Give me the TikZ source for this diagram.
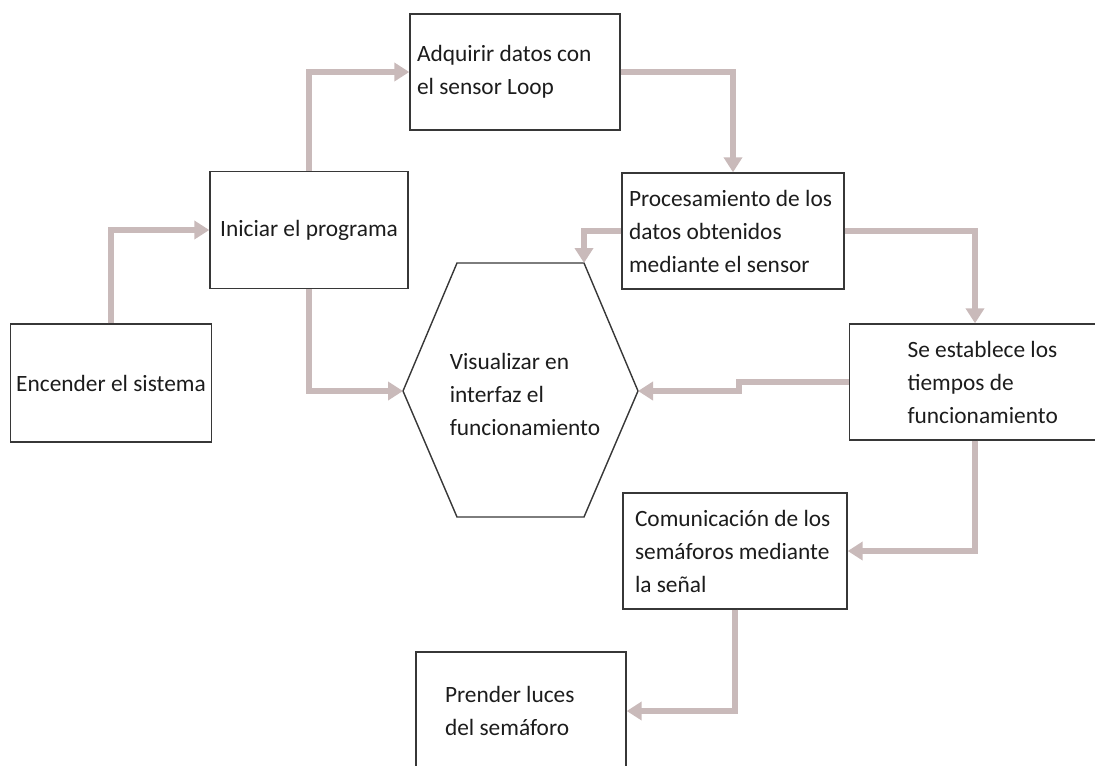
\documentclass[tikz,border=0pt]{standalone}
\usepackage{fontspec}
\setmainfont{Carlito}
\usepackage{tikz}
\usetikzlibrary{arrows.meta, positioning, calc}

\definecolor{flowgray}{RGB}{201,186,186}
\definecolor{edgegray}{RGB}{55,55,55}
\definecolor{textgray}{RGB}{28,28,28}

\begin{document}
\begin{tikzpicture}[
    x=0.02cm, y=-0.02cm,
    box/.style={rectangle, draw=edgegray, line width=0.8pt, align=flush left, minimum height=2.32cm, inner ysep=0pt, text=textgray},
    hexline/.style={draw=edgegray, line width=0.8pt, line join=miter},
    flow/.style={draw=flowgray, line width=0.12cm, -{Triangle[length=0.3cm, width=0.36cm]}},
    every node/.style={font=\fontsize{13.3}{18.8}\selectfont}
]
\useasboundingbox (0,0) rectangle (1095,765);

% Left column
\node[box, align=left, minimum width=4cm, minimum height=2.36cm] (enc) at (111,383) {Encender el sistema};
\node[box, align=left, minimum width=3.96cm, minimum height=2.34cm] (ini) at (309,230) {Iniciar el programa};

% Top boxes
\node[box, text width=3.92cm, inner xsep=0.14cm] (adq) at (515,72) {Adquirir datos con\\el sensor Loop};
\node[box, text width=4.16cm, inner xsep=0.14cm] (pro) at (733,231) {Procesamiento de los\\datos obtenidos\\mediante el sensor};

% Right side (runs off the page)
\node[box, text width=3.3cm, inner xsep=1.16cm] (est) at (990,382) {Se establece los\\tiempos de\\funcionamiento};
\node[box, text width=4.0cm, inner xsep=0.24cm] (com) at (735,551) {Comunicación de los\\semáforos mediante\\la señal};
\node[box, text width=3.04cm, inner xsep=0.58cm, minimum height=2.36cm] (pre) at (521,711) {Prender luces\\del semáforo};

% Hexagon: interface
\coordinate (visW) at (403,391);
\coordinate (visNW) at (457,263);
\coordinate (visNE) at (584,263);
\coordinate (visE) at (638,391);
\coordinate (visSE) at (584,517);
\coordinate (visSW) at (457,517);
\draw[hexline] (visW) -- (visNW) -- (visNE) -- (visE) -- (visSE) -- (visSW) -- cycle;
\node[align=left, text=textgray] (vis) at (525,394) {Visualizar en\\interfaz el\\funcionamiento};

% Arrows
\draw[flow] (enc.north) |- (ini.west);
\draw[flow] (ini.north) |- (adq.west);
\draw[flow] (ini.south) |- (visW);
\draw[flow] (adq.east) -| (pro.north);
\draw[flow] (pro.west) -| (visNE);
\draw[flow] (pro.east) -| ([xshift=-0.3cm]est.north);
\draw[flow] (est.west) -- ++(-110,0) |- (visE);
\draw[flow] ([xshift=-0.3cm]est.south) |- (com.east);
\draw[flow] (com.south) |- (pre.east);

\end{tikzpicture}
\end{document}
